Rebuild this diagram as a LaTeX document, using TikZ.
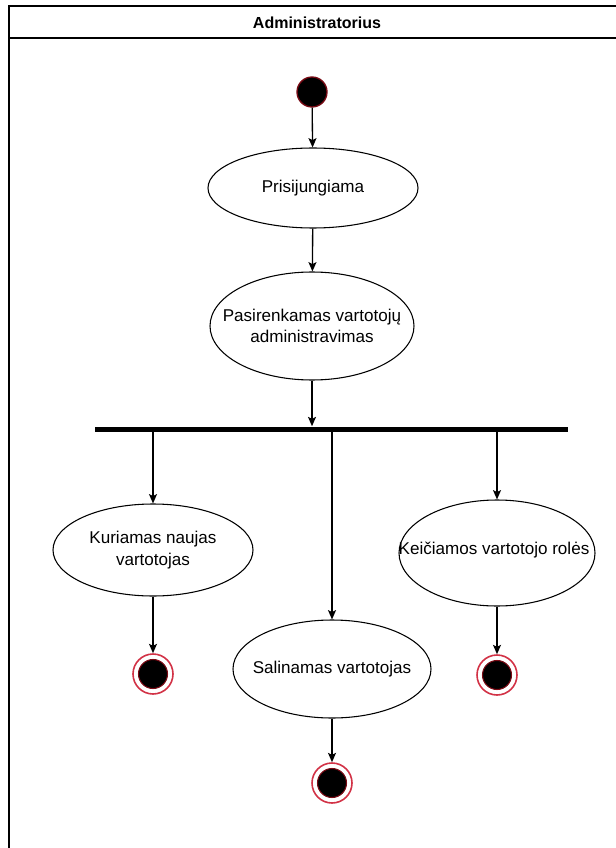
\documentclass[tikz,border=0pt]{standalone}
\usepackage{fontspec}
\setmainfont{Liberation Sans}
\usetikzlibrary{shapes.geometric,arrows.meta}
\definecolor{startred}{RGB}{120,10,20}
\definecolor{endred}{RGB}{210,50,70}
\tikzset{
  act/.style n args={3}{ellipse, draw=black, line width=0.8pt, minimum width=#1*0.75pt,
    minimum height=#2*0.75pt, inner sep=0pt,
    label={[acttext]center:#3}},
  acttext/.style={align=center, inner sep=0pt, font=\fontsize{12.8}{16}\selectfont},
  arr/.style={draw=black, line width=1pt, -{Stealth[length=7pt,width=6pt,inset=1.5pt]}},
  initstate/.style={circle, fill=black, draw=startred, line width=1pt,
    minimum size=30*0.75pt, inner sep=0pt},
  finalring/.style={circle, draw=endred, line width=1.2pt, fill=white,
    minimum size=40*0.75pt, inner sep=0pt},
  finaldot/.style={circle, fill=black, draw=startred, line width=0.8pt,
    minimum size=29*0.75pt, inner sep=0pt},
  frame/.style={draw=black, line width=1.6pt}
}
\begin{document}
\begin{tikzpicture}[x=0.75pt,y=-0.75pt]
  \useasboundingbox (0,0) rectangle (616,848);
  \fill[white] (0,0) rectangle (616,848);

  % swimlane frame and header
  \coordinate (tl) at (9,6);
  \coordinate (tr) at (620,6);
  \coordinate (bl) at (9,852);
  \coordinate (hl) at (9,38);
  \coordinate (hr) at (620,38);
  \draw[frame] (bl) -- (tl) -- (tr);
  \draw[frame] (hl) -- (hr);
  \node[font=\bfseries\fontsize{12}{14}\selectfont] (title) at (317,22.5) {Administratorius};

  % start state
  \node[initstate] (start) at (312,92) {};

  % actions
  \node[act={210}{80}{Prisijungiama}] (login) at (313,188) {};
  \node[act={204}{108}{Pasirenkamas vartotojų\\administravimas}] (choose) at (312,326) {};

  % fork bar
  \node[fill=black, minimum width=473*0.75pt, minimum height=5*0.75pt, inner sep=0pt] (fork) at (331.5,429) {};

  \node[act={200}{92}{Kuriamas naujas\\vartotojas}] (create) at (153,550) {};
  \node[act={196}{106}{}] (roles) at (497,553) {};
  \node[acttext] (rolestext) at (494,550) {Keičiamos vartotojo rolės};
  \node[act={198}{98}{Salinamas vartotojas}] (delete) at (332,669) {};

  % end states
  \node[finalring] (end1) at (153,674) {};
  \node[finaldot] at (end1) {};
  \node[finalring] (end2) at (497,675) {};
  \node[finaldot] at (end2) {};
  \node[finalring] (end3) at (332,783) {};
  \node[finaldot] at (end3) {};

  % flows
  \draw[arr] (start) -- (login);
  \draw[arr] (login) -- (choose);
  \draw[arr] (choose.south) -- (choose.south |- fork.north);
  \draw[arr] (fork.south -| create.north) -- (create.north);
  \draw[arr] (fork.south -| delete.north) -- (delete.north);
  \draw[arr] (fork.south -| roles.north) -- (roles.north);
  \draw[arr] (create.south) -- (end1.north);
  \draw[arr] (roles.south) -- (end2.north);
  \draw[arr] (delete.south) -- (end3.north);
\end{tikzpicture}
\end{document}
